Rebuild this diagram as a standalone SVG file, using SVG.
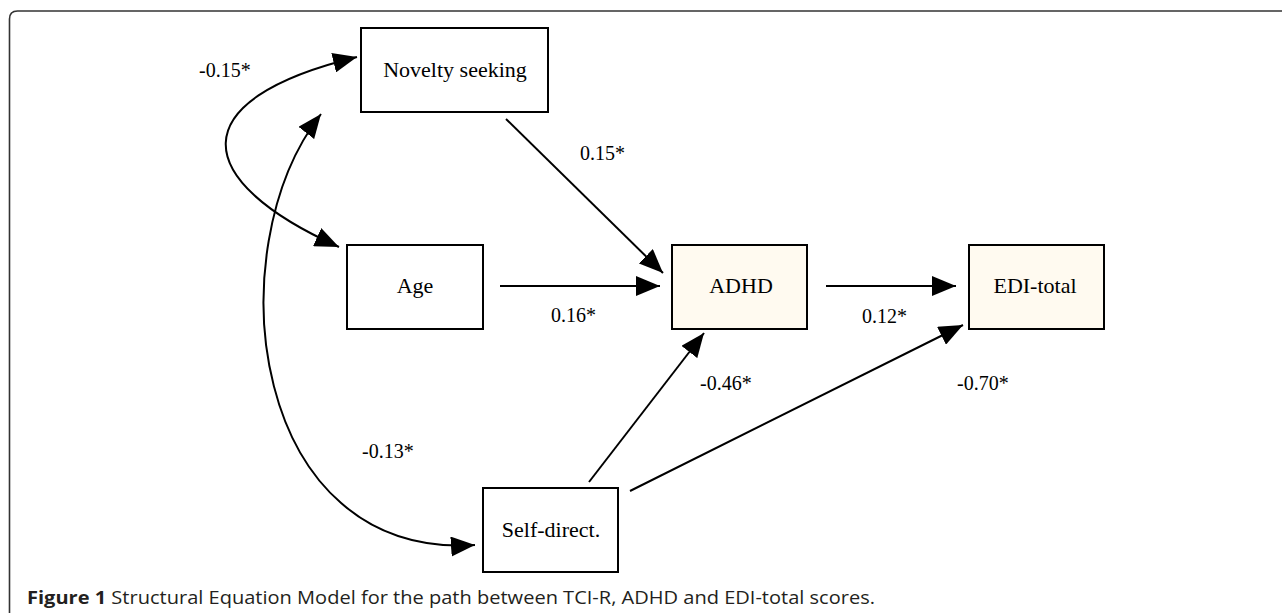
<svg xmlns="http://www.w3.org/2000/svg" width="1282" height="613" viewBox="0 0 1282 613">
<style>
.box{stroke:#000;stroke-width:2}
.w{fill:#fff}
.c{fill:#fffaf0}
.t{font-family:"Liberation Serif","Times New Roman",serif;font-size:22px;fill:#000;text-anchor:middle}
.l{font-family:"Liberation Serif","Times New Roman",serif;font-size:20px;fill:#000}
.e{fill:none;stroke:#000;stroke-width:2}
.cap{font-family:"Open Sans","Liberation Sans",sans-serif;font-size:18px;fill:#231f20}
</style>
<defs>
<marker id="ah" markerUnits="userSpaceOnUse" markerWidth="24" markerHeight="20" refX="24" refY="10" orient="auto-start-reverse" viewBox="0 0 24 20">
<path d="M0,0 L24,10 L0,20 z" fill="#000"/>
</marker>
</defs>
<rect width="1282" height="613" fill="#fff"/>
<path d="M9.5 613 V19 Q9.5 11 17.5 11 H1282" fill="none" stroke="#333" stroke-width="1.6"/>
<g id="connectors">
<path class="e" d="M357 57 C180 100 190 180 339 247" marker-start="url(#ah)" marker-end="url(#ah)"/>
<path class="e" d="M321 114 C215 250 250 560 475 545" marker-start="url(#ah)" marker-end="url(#ah)"/>
<line class="e" x1="506" y1="119" x2="663" y2="273" marker-end="url(#ah)"/>
<line class="e" x1="500" y1="286" x2="660" y2="286" marker-end="url(#ah)"/>
<line class="e" x1="826" y1="286" x2="956" y2="286" marker-end="url(#ah)"/>
<line class="e" x1="589" y1="482" x2="704" y2="333" marker-end="url(#ah)"/>
<line class="e" x1="630" y1="491" x2="963" y2="325" marker-end="url(#ah)"/>
</g>
<g id="labels">
<text class="l" x="199" y="77">-0.15*</text>
<text class="l" x="580" y="160">0.15*</text>
<text class="l" x="551" y="322">0.16*</text>
<text class="l" x="862" y="323">0.12*</text>
<text class="l" x="700" y="390" fill="#222">-0.46*</text>
<text class="l" x="957" y="390">-0.70*</text>
<text class="l" x="362" y="458">-0.13*</text>
</g>
<g id="novelty">
<rect class="box w" x="361" y="28" width="187" height="84"/>
<text class="t" x="455" y="77">Novelty seeking</text>
</g>
<g id="age">
<rect class="box w" x="347" y="245" width="136" height="84"/>
<text class="t" x="415" y="293">Age</text>
</g>
<g id="adhd">
<rect class="box c" x="672" y="245" width="135" height="84"/>
<text class="t" x="741" y="293">ADHD</text>
</g>
<g id="edi">
<rect class="box c" x="969" y="245" width="135" height="84"/>
<text class="t" x="1035" y="293">EDI-total</text>
</g>
<g id="selfdirect">
<rect class="box w" x="483" y="488" width="135" height="84"/>
<text class="t" x="551" y="537">Self-direct.</text>
</g>
<text class="cap" x="27" y="604" textLength="848" lengthAdjust="spacingAndGlyphs"><tspan font-weight="bold">Figure 1</tspan> Structural Equation Model for the path between TCI-R, ADHD and EDI-total scores.</text>
</svg>
